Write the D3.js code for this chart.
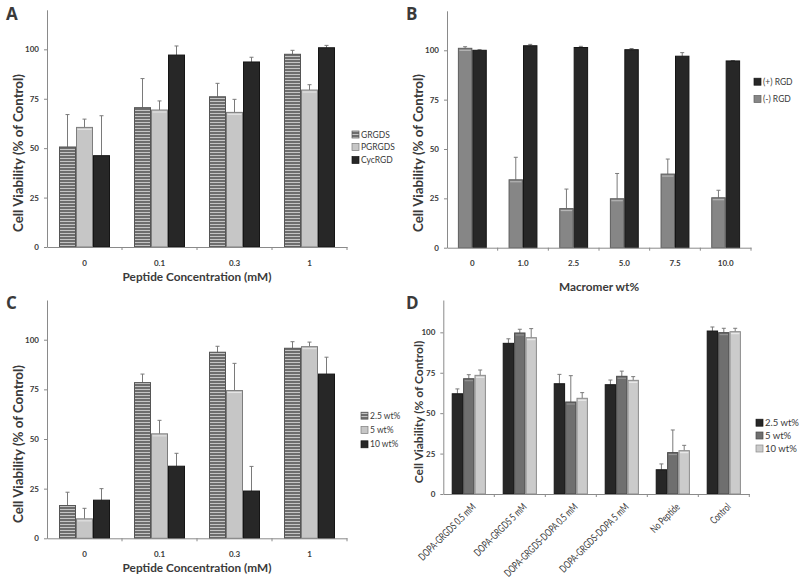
<!DOCTYPE html>
<html><head><meta charset="utf-8">
<script src="https://cdn.jsdelivr.net/npm/d3@7"></script>
<style>
body{margin:0;background:#fff}
text{font-family:Lato,"Open Sans",sans-serif;fill:#3a3a3a}
</style>
</head><body>
<svg id="chart" width="800" height="582"></svg>
<script>
// ---------- DATA ----------
const yTickValues = [0, 25, 50, 75, 100];
const yTitle = "Cell Viability (% of Control)";

// Panel A
const catsA = ["0", "0.1", "0.3", "1"];
const grgdsA = [50.6, 70.5, 76.0, 97.5];
const grgdsErrA = [16.4, 14.7, 6.8, 2.0];
const pgrgdsA = [60.5, 69.3, 68.1, 79.4];
const pgrgdsErrA = [4.2, 4.6, 6.6, 2.7];
const cycrgdA = [46.2, 97.1, 93.6, 100.8];
const cycrgdErrA = [20.2, 4.6, 2.4, 1.2];

// Panel B
const catsB = ["0", "1.0", "2.5", "5.0", "7.5", "10.0"];
const minusRgdB = [101.0, 34.4, 19.8, 24.8, 37.3, 25.3];
const minusRgdErrB = [0.8, 11.4, 9.9, 12.8, 7.6, 3.8];
const plusRgdB = [100.0, 102.3, 101.4, 100.3, 97.0, 94.6];
const plusRgdErrB = [0.3, 0.7, 0.6, 0.6, 1.8, 0.2];

// Panel C
const catsC = ["0", "0.1", "0.3", "1"];
const wt25C = [16.5, 78.4, 93.7, 95.7];
const wt25ErrC = [6.7, 4.3, 3.0, 3.3];
const wt5C = [9.8, 52.6, 74.4, 96.5];
const wt5ErrC = [5.3, 6.8, 13.7, 2.3];
const wt10C = [19.2, 36.3, 23.8, 82.7];
const wt10ErrC = [5.8, 6.5, 12.4, 8.5];

// Panel D
const catsD = ["DOPA-GRGDS 0.5 mM", "DOPA-GRGDS 5 mM", "DOPA-GRGDS-DOPA 0.5 mM", "DOPA-GRGDS-DOPA 5 mM", "No Peptide", "Control"];
const wt25D = [62.0, 93.2, 68.2, 67.6, 15.0, 100.8];
const wt25ErrD = [3.0, 2.8, 5.8, 2.9, 3.6, 2.5];
const wt5D = [71.3, 99.6, 56.9, 72.8, 25.6, 99.8];
const wt5ErrD = [2.5, 2.3, 16.3, 3.2, 14.0, 2.7];
const wt10D = [73.4, 96.7, 59.2, 70.3, 26.8, 100.4];
const wt10ErrD = [3.3, 5.6, 3.5, 2.3, 3.3, 2.1];

// ---------- DRAWING ----------
const svg = d3.select("#chart");
const defs = svg.append("defs");
const pat = defs.append("pattern").attr("id", "stripes")
  .attr("patternUnits", "userSpaceOnUse").attr("width", 6).attr("height", 3);
pat.append("rect").attr("width", 6).attr("height", 3).attr("fill", "#6d6d6d");
pat.append("rect").attr("y", 2).attr("width", 6).attr("height", 1).attr("fill", "#c4c4c4");

const STY = {
  stripe: {fill: "url(#stripes)", stroke: "#555", hl: null, sw: "url(#stripes)"},
  light: {fill: "#c6c6c6", stroke: "#7d7d7d", hl: "#e6e6e6", sw: "#c6c6c6"},
  black: {fill: "#272727", stroke: "#151515", hl: null, sw: "#272727"},
  mid: {fill: "#868686", stroke: "#5d5d5d", hl: "#bdbdbd", sw: "#868686"},
  dgray: {fill: "#6f6f6f", stroke: "#4a4a4a", hl: "#9a9a9a", sw: "#6f6f6f"},
  lgray: {fill: "#cbcbcb", stroke: "#8a8a8a", hl: "#eeeeee", sw: "#cbcbcb"}
};

function panel(cfg) {
  const g = svg.append("g");
  const x = d3.scaleBand().domain(cfg.cats).range([cfg.left, cfg.right]).padding(0);
  const y = d3.scaleLinear().domain([0, 120]).range([cfg.bottom, cfg.top]);
  const gw = x.bandwidth() * cfg.frac;
  const off = (x.bandwidth() - gw) / 2;
  const xs = d3.scaleBand().domain(cfg.series.map(s => s.name)).range([0, gw]).padding(0);

  cfg.series.forEach(s => {
    const st = STY[s.style];
    const data = cfg.cats.map((c, i) => ({c, v: s.values[i], e: s.errs[i]}));
    const sg = g.append("g");
    sg.selectAll("line.err").data(data).join("line")
      .attr("x1", d => x(d.c) + off + xs(s.name) + xs.bandwidth() / 2)
      .attr("x2", d => x(d.c) + off + xs(s.name) + xs.bandwidth() / 2)
      .attr("y1", d => y(d.v)).attr("y2", d => y(d.v + d.e))
      .attr("stroke", "#7a7a7a").attr("stroke-width", 1);
    sg.selectAll("line.cap").data(data).join("line")
      .attr("x1", d => x(d.c) + off + xs(s.name) + xs.bandwidth() / 2 - 2)
      .attr("x2", d => x(d.c) + off + xs(s.name) + xs.bandwidth() / 2 + 2)
      .attr("y1", d => y(d.v + d.e)).attr("y2", d => y(d.v + d.e))
      .attr("stroke", "#7a7a7a").attr("stroke-width", 1);
    sg.selectAll("rect").data(data).join("rect")
      .attr("x", d => x(d.c) + off + xs(s.name) + 0.5)
      .attr("width", xs.bandwidth() - 1)
      .attr("y", d => y(d.v))
      .attr("height", d => y(0) - y(d.v))
      .attr("fill", st.fill).attr("stroke", st.stroke).attr("stroke-width", 1);
    if (st.hl) {
      sg.selectAll("line.hl").data(data).join("line")
        .attr("x1", d => x(d.c) + off + xs(s.name) + 1.5)
        .attr("x2", d => x(d.c) + off + xs(s.name) + xs.bandwidth() - 1.5)
        .attr("y1", d => y(d.v) + 2).attr("y2", d => y(d.v) + 2)
        .attr("stroke", st.hl).attr("stroke-width", 1);
    }
  });

  // y axis
  const ya = g.append("g").attr("transform", `translate(${cfg.left},0)`)
    .call(d3.axisLeft(y).tickValues(yTickValues).tickSize(3).tickSizeOuter(0).tickPadding(5));
  ya.select(".domain").attr("stroke", "#8a8a8a");
  ya.selectAll(".tick line").attr("stroke", "#8a8a8a");
  ya.selectAll(".tick text").style("font-size", "8px").style("font-weight", "bold")
    .style("font-family", "Lato, sans-serif").attr("fill", "#444");

  // x axis
  const xa = g.append("g").attr("transform", `translate(0,${cfg.bottom})`)
    .call(d3.axisBottom(x).tickSize(0).tickSizeOuter(0).tickPadding(13));
  xa.select(".domain").attr("stroke", "#8a8a8a");
  xa.selectAll(".tick text").style("font-family", "Lato, sans-serif").attr("fill", "#444");
  if (cfg.rot) {
    const lbl = xa.selectAll(".tick text")
      .style("font-size", "10.5px").attr("fill", "#333")
      .attr("text-anchor", "end").attr("y", 0).attr("dy", "0.35em")
      .attr("transform", "translate(5,11) rotate(-45)");
    // condense the labels so the longest one matches the reference's length (~99px)
    let maxLen = 0;
    lbl.each(function () { maxLen = Math.max(maxLen, this.getComputedTextLength()); });
    const k = Math.min(1, 99 / maxLen);
    lbl.each(function () {
      const L = this.getComputedTextLength();
      d3.select(this).attr("textLength", L * k).attr("lengthAdjust", "spacingAndGlyphs");
    });
  } else {
    xa.selectAll(".tick text").style("font-size", "8px").style("font-weight", "bold");
  }
  g.selectAll("line.bt").data(d3.range(1, cfg.cats.length + 1)).join("line")
    .attr("x1", i => cfg.left + x.step() * i).attr("x2", i => cfg.left + x.step() * i)
    .attr("y1", cfg.bottom).attr("y2", cfg.bottom + 3).attr("stroke", "#8a8a8a");

  // titles
  g.append("text").attr("x", cfg.letter[0]).attr("y", cfg.letter[1]).text(cfg.name)
    .style("font-size", "17px").style("font-weight", "bold").attr("fill", "#1a1a1a")
    .style("font-family", "'Open Sans', sans-serif");
  g.append("text").attr("transform", `translate(${cfg.yt[0]},${cfg.yt[1]}) rotate(-90)`)
    .attr("text-anchor", "middle").text(yTitle)
    .style("font-size", cfg.ytSize + "px").style("font-weight", "bold").attr("fill", "#333");
  if (cfg.xTitle) {
    g.append("text").attr("x", (cfg.left + cfg.right) / 2).attr("y", cfg.xtY)
      .attr("text-anchor", "middle").text(cfg.xTitle)
      .style("font-size", "11.8px").style("font-weight", "bold").attr("fill", "#333");
  }

  // legend
  cfg.legend.items.forEach((name, i) => {
    const s = cfg.series.find(d => d.name === name);
    const ly = cfg.legend.y[i];
    g.append("rect").attr("x", cfg.legend.x).attr("y", ly - 3.5).attr("width", 7).attr("height", 7)
      .attr("fill", STY[s.style].sw).attr("stroke", STY[s.style].stroke).attr("stroke-width", 0.7);
    g.append("text").attr("x", cfg.legend.x + 9).attr("y", ly + 3).text(name)
      .style("font-size", cfg.legend.size + "px").attr("fill", "#333");
  });
}

panel({
  name: "A", cats: catsA, left: 47, right: 347, bottom: 247, top: 9.8, frac: 0.68,
  series: [
    {name: "GRGDS", values: grgdsA, errs: grgdsErrA, style: "stripe"},
    {name: "PGRGDS", values: pgrgdsA, errs: pgrgdsErrA, style: "light"},
    {name: "CycRGD", values: cycrgdA, errs: cycrgdErrA, style: "black"}
  ],
  legend: {x: 352, y: [134.5, 147, 160], items: ["GRGDS", "PGRGDS", "CycRGD"], size: 8.5},
  letter: [6, 20], yt: [23, 153], ytSize: 13.3, xTitle: "Peptide Concentration (mM)", xtY: 281
});

panel({
  name: "B", cats: catsB, left: 447, right: 751, bottom: 247.7, top: 10.8, frac: 0.57,
  series: [
    {name: "(-) RGD", values: minusRgdB, errs: minusRgdErrB, style: "mid"},
    {name: "(+) RGD", values: plusRgdB, errs: plusRgdErrB, style: "black"}
  ],
  legend: {x: 754, y: [81.7, 99], items: ["(+) RGD", "(-) RGD"], size: 8.5},
  letter: [406, 20], yt: [423, 153], ytSize: 13.3, xTitle: "Macromer wt%", xtY: 291
});

panel({
  name: "C", cats: catsC, left: 47, right: 347, bottom: 538.3, top: 300, frac: 0.68,
  series: [
    {name: "2.5 wt%", values: wt25C, errs: wt25ErrC, style: "stripe"},
    {name: "5 wt%", values: wt5C, errs: wt5ErrC, style: "light"},
    {name: "10 wt%", values: wt10C, errs: wt10ErrC, style: "black"}
  ],
  legend: {x: 361, y: [415.7, 430, 444.3], items: ["2.5 wt%", "5 wt%", "10 wt%"], size: 8.5},
  letter: [6, 309], yt: [23, 444], ytSize: 13.3, xTitle: "Peptide Concentration (mM)", xtY: 572
});

panel({
  name: "D", cats: catsD, left: 443.3, right: 749.3, bottom: 494, top: 300, frac: 0.67, rot: true,
  series: [
    {name: "2.5 wt%", values: wt25D, errs: wt25ErrD, style: "black"},
    {name: "5 wt%", values: wt5D, errs: wt5ErrD, style: "dgray"},
    {name: "10 wt%", values: wt10D, errs: wt10ErrD, style: "lgray"}
  ],
  legend: {x: 756, y: [422.7, 435.5, 448.5], items: ["2.5 wt%", "5 wt%", "10 wt%"], size: 9.5},
  letter: [406, 309], yt: [423, 412], ytSize: 12
});
</script>
</body></html>
